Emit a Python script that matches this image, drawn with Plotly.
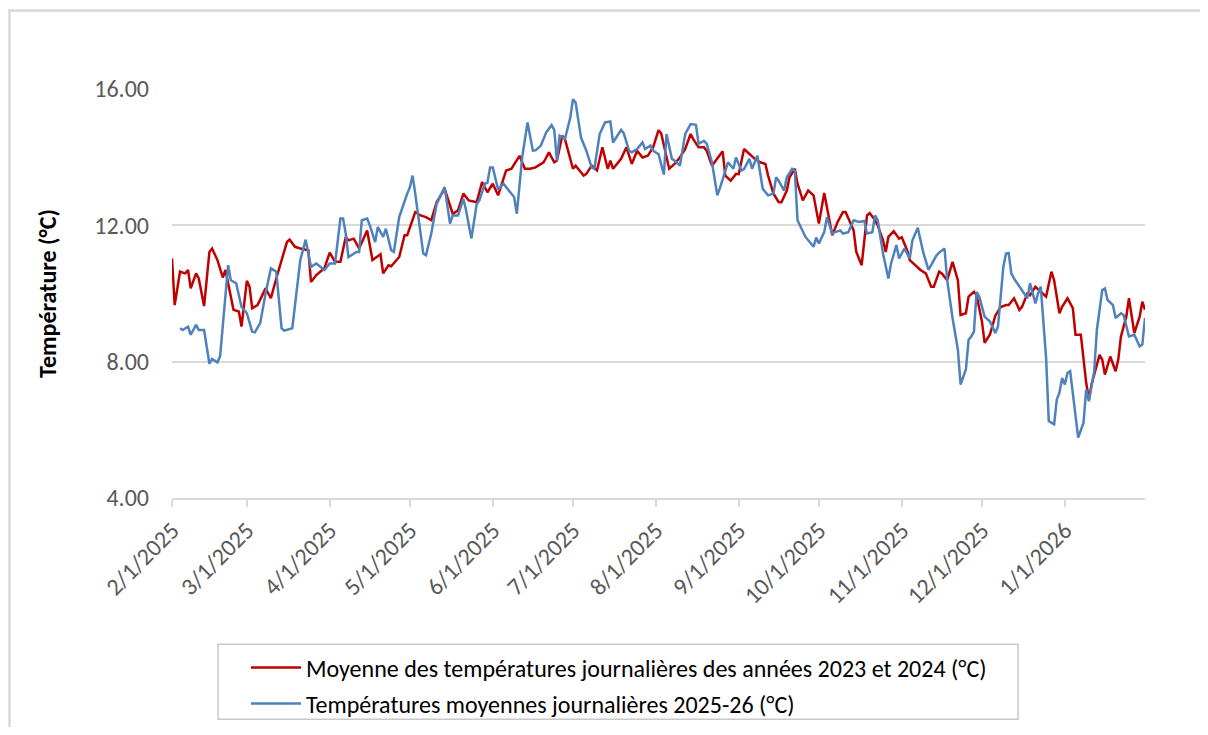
import pandas as pd
import plotly.graph_objects as go

# jours depuis le 1er février 2025
debut = "2025-02-01"

jours_moy = [0, 1, 3, 5, 6, 7, 9, 10, 12, 14, 15, 17, 19, 20, 23, 25, 26, 28, 29, 30,
             32, 35, 37, 39, 43, 44, 46, 48, 51, 52, 54, 57, 59, 61, 63, 65, 66, 68, 70, 73,
             75, 78, 79, 81, 82, 85, 87, 88, 91, 93, 95, 97, 99, 102, 105, 107, 109, 111, 114, 116,
             118, 120, 122, 124, 125, 127, 130, 132, 134, 136, 139, 140, 141, 143, 144, 146, 147, 150, 151, 154,
             155, 157, 159, 161, 163, 164, 165, 168, 170, 172, 174, 176, 178, 180, 182, 183, 185, 186, 188, 190,
             192, 194, 195, 197, 199, 200, 202, 204, 206, 207, 209, 211, 212, 214, 216, 218, 220, 222, 223, 225,
             227, 228, 230, 231, 233, 234, 236, 238, 240, 242, 244, 245, 247, 249, 251, 252, 255, 256, 258, 259,
             260, 261, 263, 264, 266, 267, 268, 270, 272, 273, 275, 276, 279, 280, 282, 284, 285, 287, 288, 290,
             292, 294, 295, 297, 298, 300, 301, 303, 304, 306, 308, 310, 312, 313, 315, 317, 318, 320, 321, 323,
             325, 327, 329, 330, 332, 333, 335, 337, 338, 340, 342, 343, 344, 347, 348, 349, 351, 353, 354, 355,
             357, 358, 360, 362, 363, 364]
temp_moy = [11.03, 9.66, 10.64, 10.59, 10.69, 10.15, 10.59, 10.44, 9.63, 11.22, 11.32, 10.98, 10.47, 10.69, 9.52, 9.47, 9.03, 10.37, 10.20, 9.57,
            9.66, 10.15, 9.86, 10.44, 11.51, 11.58, 11.37, 11.32, 11.27, 10.34, 10.54, 10.74, 11.20, 10.93, 10.93, 11.66, 11.56, 11.61, 11.32, 11.85,
            10.98, 11.15, 10.59, 10.83, 10.80, 11.07, 11.71, 11.71, 12.39, 12.29, 12.24, 12.15, 12.68, 13.07, 12.34, 12.44, 12.93, 12.73, 12.68, 13.27,
            12.97, 13.22, 12.88, 13.40, 13.61, 13.66, 14.04, 13.66, 13.66, 13.70, 13.85, 13.99, 14.14, 13.85, 13.90, 14.63, 14.53, 13.66, 13.75, 13.46,
            13.51, 13.75, 13.61, 14.29, 13.66, 13.90, 13.66, 13.95, 14.29, 13.80, 14.19, 13.99, 14.04, 14.29, 14.79, 14.70, 13.99, 13.66, 13.80, 13.99,
            14.24, 14.68, 14.53, 14.29, 14.29, 14.19, 13.75, 13.95, 14.17, 13.46, 13.31, 13.51, 13.50, 14.24, 14.09, 13.95, 13.85, 13.80, 13.46, 12.93,
            12.68, 12.68, 13.02, 13.41, 13.66, 13.22, 12.73, 13.02, 12.88, 12.05, 12.95, 12.53, 11.71, 12.10, 12.39, 12.39, 11.85, 11.22, 10.83, 11.56,
            12.29, 12.36, 12.15, 12.00, 11.56, 11.22, 11.66, 11.83, 11.61, 11.65, 11.27, 10.98, 10.74, 10.69, 10.59, 10.20, 10.20, 10.64, 10.59, 10.39,
            10.93, 10.39, 9.37, 9.42, 9.91, 10.05, 9.95, 9.18, 8.55, 8.80, 9.35, 9.60, 9.66, 9.66, 9.86, 9.52, 9.61, 10.00, 9.95, 10.20,
            10.05, 9.91, 10.64, 10.39, 9.42, 9.61, 9.86, 9.57, 8.79, 8.79, 7.38, 6.89, 7.33, 8.20, 8.06, 7.62, 8.15, 7.72, 8.06, 8.74,
            9.32, 9.86, 8.84, 9.32, 9.76, 9.52]

jours_2025 = [3, 4, 6, 7, 9, 10, 12, 14, 15, 17, 18, 20, 21, 22, 24, 26, 28, 30, 31, 33,
              35, 37, 39, 41, 42, 45, 48, 50, 52, 54, 57, 59, 61, 63, 64, 65, 66, 69, 70, 71,
              73, 74, 76, 77, 79, 80, 82, 83, 85, 88, 89, 90, 91, 94, 95, 97, 99, 102, 104, 105,
              107, 109, 110, 112, 114, 115, 117, 118, 119, 120, 122, 124, 126, 128, 129, 131, 133, 135, 136, 138,
              140, 142, 143, 144, 145, 147, 149, 150, 151, 153, 155, 157, 158, 160, 162, 164, 165, 168, 169, 171,
              172, 174, 176, 177, 179, 180, 182, 184, 185, 187, 188, 190, 192, 194, 196, 197, 199, 200, 202, 204,
              205, 208, 210, 211, 213, 214, 216, 217, 219, 221, 223, 225, 226, 227, 229, 230, 232, 233, 234, 237,
              240, 241, 242, 244, 245, 247, 248, 250, 251, 253, 255, 257, 259, 260, 262, 263, 264, 266, 268, 269,
              271, 272, 274, 276, 277, 279, 281, 283, 284, 286, 287, 289, 290, 292, 294, 295, 297, 298, 299, 300,
              301, 302, 304, 306, 308, 309, 311, 312, 313, 314, 315, 317, 319, 320, 321, 323, 324, 325, 327, 328,
              330, 331, 332, 333, 334, 335, 336, 337, 339, 341, 342, 343, 345, 346, 348, 349, 350, 352, 353, 355,
              356, 358, 360, 362, 363, 364]
temp_2025 = [8.98, 8.93, 9.03, 8.79, 9.08, 8.93, 8.93, 7.94, 8.08, 7.98, 8.16, 10.00, 10.83, 10.39, 10.30, 9.61, 9.42, 8.88, 8.86, 9.13,
             10.00, 10.74, 10.64, 8.98, 8.91, 8.98, 10.98, 11.58, 10.78, 10.88, 10.69, 10.88, 10.88, 12.20, 12.20, 11.76, 11.07, 11.22, 11.22, 12.15,
             12.20, 12.00, 11.51, 11.95, 11.66, 11.90, 11.27, 11.22, 12.24, 12.93, 13.12, 13.46, 12.93, 11.17, 11.12, 11.76, 12.63, 13.12, 12.05, 12.29,
             12.29, 12.78, 12.44, 11.61, 12.63, 12.73, 13.22, 13.25, 13.70, 13.70, 13.05, 13.22, 13.02, 12.83, 12.34, 13.99, 15.02, 14.19, 14.20, 14.34,
             14.73, 14.94, 14.80, 13.90, 14.63, 14.53, 15.16, 15.70, 15.60, 14.58, 14.19, 13.70, 13.66, 14.68, 15.02, 15.05, 14.43, 14.80, 14.70, 14.19,
             14.14, 14.24, 14.43, 14.24, 14.34, 14.19, 14.09, 13.49, 14.68, 13.95, 13.90, 13.75, 14.68, 14.97, 14.95, 14.39, 14.48, 14.40, 13.85, 12.88,
             13.10, 13.85, 13.66, 13.99, 13.61, 13.65, 13.95, 13.66, 14.04, 13.07, 12.88, 12.93, 13.41, 13.30, 13.02, 13.41, 13.66, 13.60, 12.15, 11.66,
             11.37, 11.64, 11.47, 11.80, 12.24, 11.76, 11.80, 11.85, 11.76, 11.80, 12.15, 12.10, 12.13, 11.76, 11.80, 12.29, 12.15, 11.17, 10.44, 10.88,
             11.42, 11.03, 11.32, 11.03, 11.56, 11.93, 11.22, 10.69, 10.83, 11.12, 11.20, 11.32, 10.39, 9.28, 8.35, 7.33, 7.77, 8.64, 8.74, 8.88,
             10.05, 9.91, 9.32, 9.18, 8.84, 9.03, 10.78, 11.17, 11.19, 10.59, 10.44, 10.20, 10.00, 9.86, 10.30, 9.71, 10.00, 10.20, 8.11, 6.26,
             6.16, 6.89, 7.09, 7.52, 7.33, 7.67, 7.72, 7.09, 5.77, 6.21, 7.18, 6.84, 7.72, 8.93, 10.10, 10.15, 9.81, 9.66, 9.28, 9.42,
             9.37, 8.74, 8.79, 8.45, 8.50, 9.28]

y_ticks = [4, 8, 12, 16]
mois = pd.date_range("2025-02-01", "2026-01-01", freq="MS")

nom_moy = "Moyenne des températures journalières des années 2023 et 2024 (°C)"
nom_2025 = "Températures moyennes journalières 2025-26 (°C)"

FONT = "Carlito, Calibri, Lato, sans-serif"
GRIS = "#d9d9d9"

# the page body has an 8px margin all round, so work in screen pixels and shift,
# keeping the figure small enough that the page does not scroll
OFF = 8
W, H = 1208 - 2 * OFF, 735 - 2 * OFF
# plot area edges in screen pixels
L, R, T, B = 172, 1145, 89, 498.5


def px_x(p):
    return (p - L) / (R - L)


def px_y(p):
    return (B - p) / (B - T)


def to_dates(jours):
    return pd.Timestamp(debut) + pd.to_timedelta(jours, unit="D")


fig = go.Figure()
fig.add_trace(go.Scatter(x=to_dates(jours_moy), y=temp_moy, mode="lines", name=nom_moy,
                         legendgroup="a", line=dict(color="#C00000", width=2.5)))
fig.add_trace(go.Scatter(x=to_dates(jours_2025), y=temp_2025, mode="lines", name=nom_2025,
                         legendgroup="b", line=dict(color="#4F81BD", width=2.5)))

fig.update_layout(
    width=W, height=H,
    # fixed margins: the legend sits below the plot and must not push them
    margin=dict(l=L - OFF, r=W - (R - OFF), t=T - OFF, b=H - (B - OFF), autoexpand=False),
    paper_bgcolor="white", plot_bgcolor="white",
    font=dict(family=FONT, size=24, color="#595959"),
    showlegend=True,
    legend=dict(x=px_x(246), y=px_y(646), xanchor="left", yanchor="top",
                font=dict(size=24, color="black"), tracegroupgap=2, itemwidth=50,
                bgcolor="rgba(0,0,0,0)"),
    shapes=[
        # chart frame: only its top and left edges are in view
        dict(type="line", xref="paper", yref="paper",
             x0=px_x(8.5), x1=px_x(1230), y0=px_y(10.5), y1=px_y(10.5),
             line=dict(color=GRIS, width=2.5), layer="below"),
        dict(type="line", xref="paper", yref="paper",
             x0=px_x(9.5), x1=px_x(9.5), y0=px_y(9.5), y1=px_y(760),
             line=dict(color=GRIS, width=2.5), layer="below"),
        # legend box
        dict(type="rect", xref="paper", yref="paper",
             x0=px_x(218), x1=px_x(1018), y0=px_y(645), y1=px_y(720),
             line=dict(color="#c8c8c8", width=1.5)),
    ],
)

fig.update_xaxes(
    range=["2025-02-01", "2026-01-31"],
    tickvals=mois, tickformat="%-m/%-d/%Y", tickangle=-45,
    showgrid=False, showline=True, linecolor=GRIS, linewidth=1.5,
    ticks="outside", ticklen=7, tickcolor=GRIS, tickwidth=1.5,
    tickfont=dict(size=24, color="#595959"),
)
fig.update_yaxes(
    range=[4, 16], tickvals=y_ticks, tickformat=".2f",
    showgrid=True, gridcolor=GRIS, gridwidth=1.5, zeroline=False,
    showline=False, ticks="", ticklabelstandoff=22,
    tickfont=dict(size=24, color="#595959"),
    title=dict(text="<b>Température (°C)</b>", font=dict(size=24, color="black"), standoff=30),
)

fig.write_html("out.html")
